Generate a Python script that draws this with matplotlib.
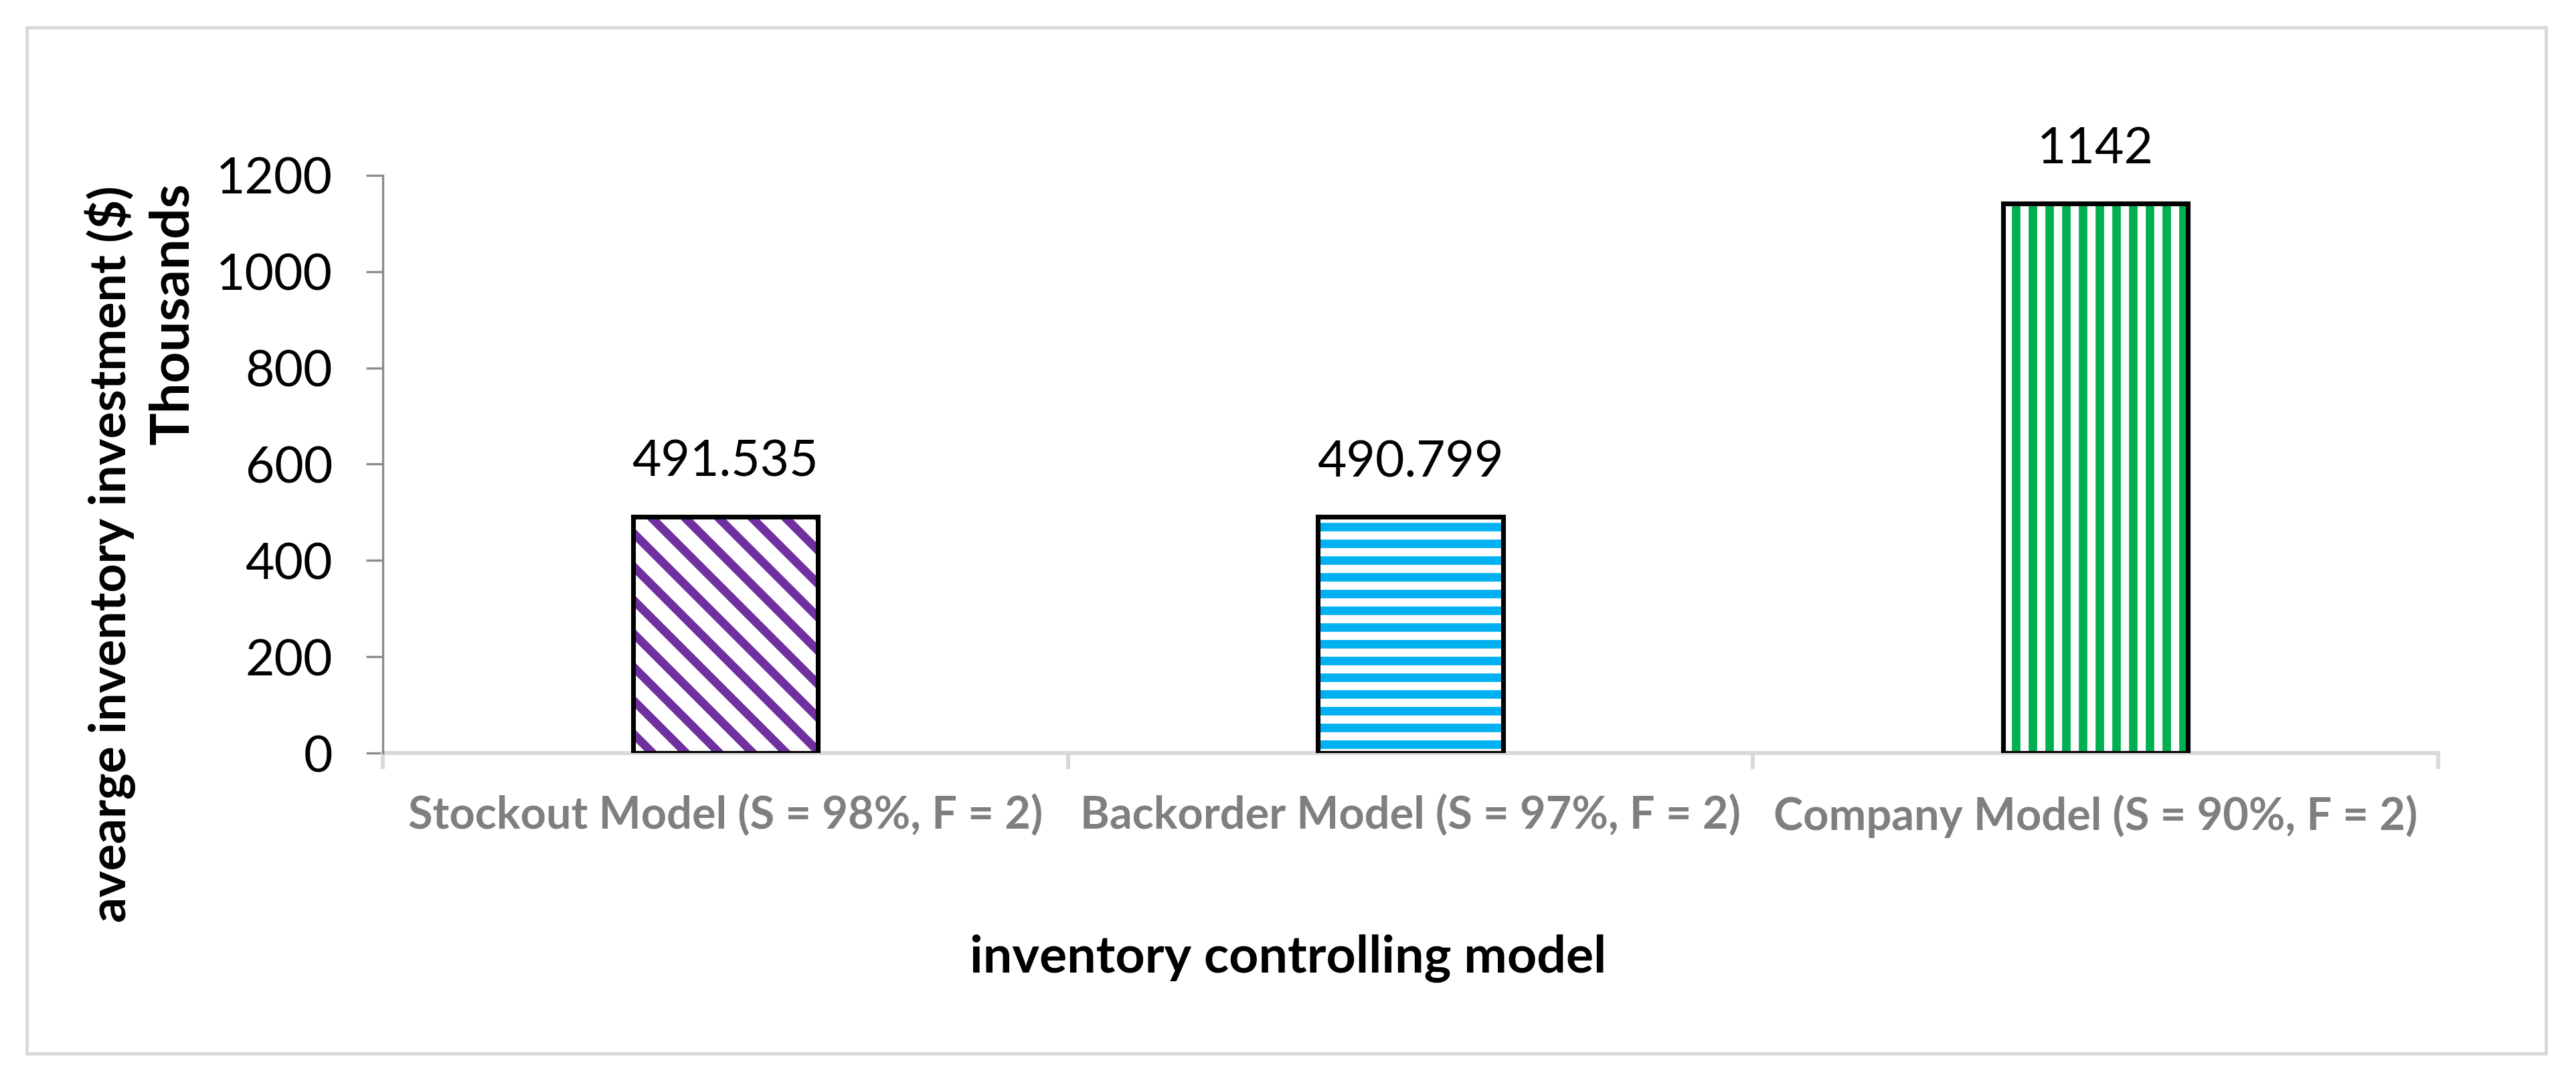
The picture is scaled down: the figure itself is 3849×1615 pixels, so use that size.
import matplotlib
matplotlib.use("Agg")
import matplotlib.pyplot as plt
from matplotlib.patches import Rectangle

# ---- data ----
categories = ["Stockout Model (S = 98%, F = 2)",
              "Backorder Model (S = 97%, F = 2)",
              "Company Model (S = 90%, F = 2)"]
values = [491.535, 490.799, 1142]
value_labels = ["491.535", "490.799", "1142"]
y_ticks = [0, 200, 400, 600, 800, 1000, 1200]
colors = ["#7030A0", "#00B0F0", "#00B050"]
hatches = ["\\\\", "--", "||"]

W, H, DPI = 3849, 1615, 300
plt.rcParams["font.family"] = ["Lato", "DejaVu Sans"]
plt.rcParams["hatch.linewidth"] = 3.05

fig = plt.figure(figsize=(W / DPI, H / DPI), dpi=DPI)
fig.patch.set_facecolor("white")

ax_l, ax_r, ax_t, ax_b = 572, 3643, 262, 1125
ax = fig.add_axes([ax_l / W, (H - ax_b) / H, (ax_r - ax_l) / W, (ax_b - ax_t) / H])

x = list(range(len(categories)))
bw = 0.27
for xi, v, c, h in zip(x, values, colors, hatches):
    ax.bar(xi, v, width=bw, facecolor="white", edgecolor=c, hatch=h, linewidth=0, zorder=2)
    ax.bar(xi, v, width=bw, fill=False, edgecolor="black", linewidth=1.7, zorder=3)

for xi, v, lab in zip(x, values, value_labels):
    ax.annotate(lab, (xi, v), xytext=(0, 14.3), textcoords="offset points",
                ha="center", va="baseline", fontsize=18, color="black")

ax.set_xlim(-0.5, len(categories) - 0.5)
ax.set_ylim(y_ticks[0], y_ticks[-1])
ax.set_yticks(y_ticks)
ax.set_yticklabels([str(t) for t in y_ticks])

for s in ["top", "right"]:
    ax.spines[s].set_visible(False)
ax.spines["left"].set_color("#8c8c8c")
ax.spines["left"].set_linewidth(0.8)
ax.spines["bottom"].set_color("#d9d9d9")
ax.spines["bottom"].set_linewidth(1.45)
ax.spines["left"].set_zorder(4)

ax.tick_params(axis="y", direction="out", length=6, width=0.8, color="#8c8c8c",
               labelsize=18, labelcolor="black", pad=12)

ax.set_xticks([i - 0.5 for i in range(len(categories) + 1)])
ax.set_xticklabels([""] * (len(categories) + 1))
ax.tick_params(axis="x", which="major", direction="out", length=5.8, width=1.45, color="#d9d9d9")
ax.set_xticks(x, minor=True)
ax.set_xticklabels(categories, minor=True, fontsize=16, fontweight="bold", color="#7f7f7f")
ax.tick_params(axis="x", which="minor", length=0, pad=15)

fig.text(0.5, (H - 1453) / H, "inventory controlling model", ha="center", va="baseline",
         fontsize=18.5, fontweight="bold", color="black")
fig.text(165 / W, (H - 828) / H, "avearge inventory investment ($)", rotation=90,
         ha="center", va="center", fontsize=18, fontweight="bold", color="black")
fig.text(258 / W, (H - 468) / H, "Thousands", rotation=90,
         ha="center", va="center", fontsize=19.5, fontweight="bold", color="black")

fig.add_artist(Rectangle((40 / W, 41 / H), (3804 - 40) / W, (H - 41 - 41) / H,
                         transform=fig.transFigure, fill=False, edgecolor="#d9d9d9", linewidth=1.2))

fig.savefig("out.png", dpi=DPI, facecolor="white")
